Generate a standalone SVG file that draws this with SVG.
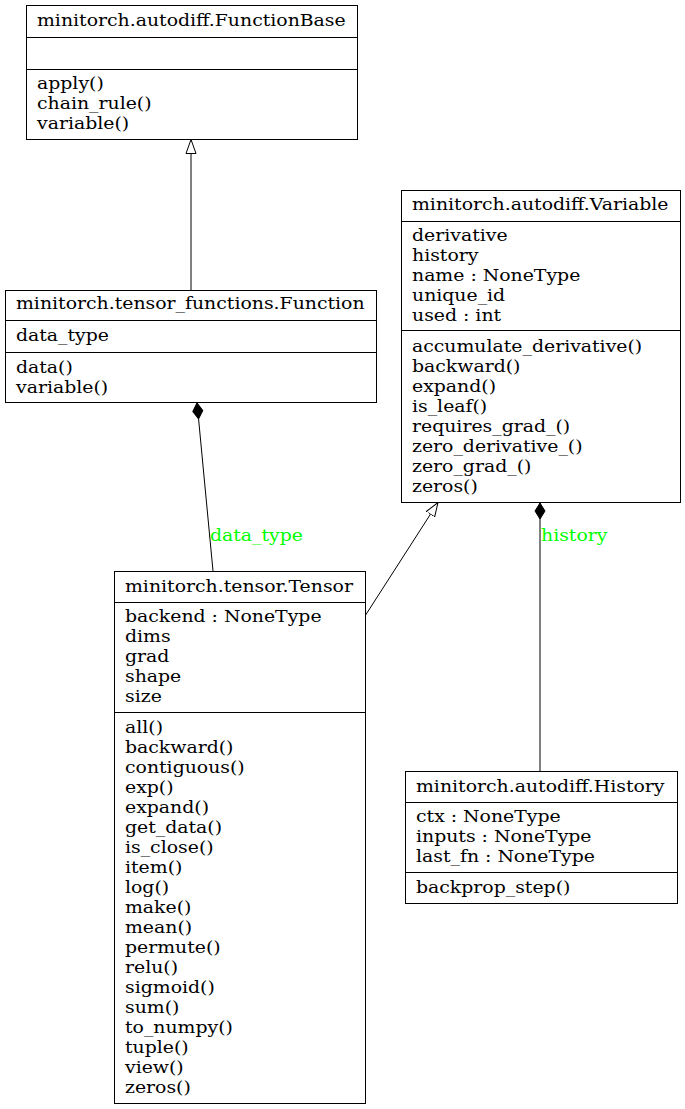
<svg xmlns="http://www.w3.org/2000/svg" width="685" height="1109" viewBox="0 0 685 1109">
  <style>
    .box { fill: #ffffff; stroke: #000000; stroke-width: 1; }
    .sep { stroke: #000000; stroke-width: 1; }
    text { font-family: "DejaVu Serif", "Liberation Serif", serif; font-size: 17px; fill: #000000; }
    .lbl { fill: #00ff00; }
    .edge { stroke: #000000; stroke-width: 1; fill: none; }
  </style>
  <defs>
    <marker id="inherit" viewBox="0 0 14 12" refX="14" refY="6" markerWidth="14" markerHeight="12" markerUnits="userSpaceOnUse" orient="auto">
      <path d="M0,1 L14,6 L0,11 Z" fill="#ffffff" stroke="#000000" stroke-width="1"/>
    </marker>
    <marker id="compose" viewBox="0 0 17 12" refX="0" refY="6" markerWidth="17" markerHeight="12" markerUnits="userSpaceOnUse" orient="auto">
      <path d="M0.5,6 L8.5,1 L16.5,6 L8.5,11 Z" fill="#000000" stroke="#000000" stroke-width="1"/>
    </marker>
  </defs>

  <rect width="685" height="1109" fill="#ffffff"/>

  <!-- connectors -->
  <g id="edges">
    <!-- Function inherits FunctionBase -->
    <line class="edge" x1="191" y1="290" x2="191" y2="139.5" marker-end="url(#inherit)"/>
    <!-- Tensor inherits Variable -->
    <line class="edge" x1="365" y1="616" x2="438" y2="502.5" marker-end="url(#inherit)"/>
    <!-- Function.data_type composed of Tensor -->
    <line class="edge" x1="197" y1="402.5" x2="213" y2="571" marker-start="url(#compose)"/>
    <g transform="translate(210,0) scale(1.11,1)"><text class="lbl" x="0" y="541">data_type</text></g>
    <!-- Variable.history composed of History -->
    <line class="edge" x1="540" y1="502.5" x2="540" y2="771" marker-start="url(#compose)"/>
    <g transform="translate(541,0) scale(1.11,1)"><text class="lbl" x="0" y="541">history</text></g>
  </g>

  <g id="FunctionBase">
    <rect class="box" x="26.5" y="5.5" width="331" height="134"/>
    <line class="sep" x1="26.5" y1="37.5" x2="357.5" y2="37.5"/>
    <line class="sep" x1="26.5" y1="69.5" x2="357.5" y2="69.5"/>
    <g transform="translate(37,0) scale(1.11,1)">
      <text x="0" y="26">minitorch.autodiff.FunctionBase</text>
      <text x="0" y="89">apply()</text>
      <text x="0" y="109">chain_rule()</text>
      <text x="0" y="129">variable()</text>
    </g>
  </g>

  <g id="Function">
    <rect class="box" x="5.5" y="290.5" width="371" height="112"/>
    <line class="sep" x1="5.5" y1="320.5" x2="376.5" y2="320.5"/>
    <line class="sep" x1="5.5" y1="352.5" x2="376.5" y2="352.5"/>
    <g transform="translate(16,0) scale(1.11,1)">
      <text x="0" y="309">minitorch.tensor_functions.Function</text>
      <text x="0" y="341">data_type</text>
      <text x="0" y="373">data()</text>
      <text x="0" y="393">variable()</text>
    </g>
  </g>

  <g id="Variable">
    <rect class="box" x="401.5" y="190.5" width="279" height="312"/>
    <line class="sep" x1="401.5" y1="221.5" x2="680.5" y2="221.5"/>
    <line class="sep" x1="401.5" y1="330.5" x2="680.5" y2="330.5"/>
    <g transform="translate(412,0) scale(1.11,1)">
      <text x="0" y="210">minitorch.autodiff.Variable</text>
      <text x="0" y="241">derivative</text>
      <text x="0" y="261">history</text>
      <text x="0" y="281">name : NoneType</text>
      <text x="0" y="301">unique_id</text>
      <text x="0" y="321">used : int</text>
      <text x="0" y="352">accumulate_derivative()</text>
      <text x="0" y="372">backward()</text>
      <text x="0" y="392">expand()</text>
      <text x="0" y="412">is_leaf()</text>
      <text x="0" y="432">requires_grad_()</text>
      <text x="0" y="452">zero_derivative_()</text>
      <text x="0" y="472">zero_grad_()</text>
      <text x="0" y="492">zeros()</text>
    </g>
  </g>

  <g id="Tensor">
    <rect class="box" x="114.5" y="571.5" width="251" height="532"/>
    <line class="sep" x1="114.5" y1="602.5" x2="365.5" y2="602.5"/>
    <line class="sep" x1="114.5" y1="712.5" x2="365.5" y2="712.5"/>
    <g transform="translate(125,0) scale(1.11,1)">
      <text x="0" y="592">minitorch.tensor.Tensor</text>
      <text x="0" y="622">backend : NoneType</text>
      <text x="0" y="642">dims</text>
      <text x="0" y="662">grad</text>
      <text x="0" y="682">shape</text>
      <text x="0" y="702">size</text>
      <text x="0" y="733">all()</text>
      <text x="0" y="753">backward()</text>
      <text x="0" y="773">contiguous()</text>
      <text x="0" y="793">exp()</text>
      <text x="0" y="813">expand()</text>
      <text x="0" y="833">get_data()</text>
      <text x="0" y="853">is_close()</text>
      <text x="0" y="873">item()</text>
      <text x="0" y="893">log()</text>
      <text x="0" y="913">make()</text>
      <text x="0" y="933">mean()</text>
      <text x="0" y="953">permute()</text>
      <text x="0" y="973">relu()</text>
      <text x="0" y="993">sigmoid()</text>
      <text x="0" y="1013">sum()</text>
      <text x="0" y="1033">to_numpy()</text>
      <text x="0" y="1053">tuple()</text>
      <text x="0" y="1073">view()</text>
      <text x="0" y="1093">zeros()</text>
    </g>
  </g>

  <g id="History">
    <rect class="box" x="405.5" y="771.5" width="272" height="132"/>
    <line class="sep" x1="405.5" y1="802.5" x2="677.5" y2="802.5"/>
    <line class="sep" x1="405.5" y1="872.5" x2="677.5" y2="872.5"/>
    <g transform="translate(416,0) scale(1.11,1)">
      <text x="0" y="792">minitorch.autodiff.History</text>
      <text x="0" y="822">ctx : NoneType</text>
      <text x="0" y="842">inputs : NoneType</text>
      <text x="0" y="862">last_fn : NoneType</text>
      <text x="0" y="893">backprop_step()</text>
    </g>
  </g>
</svg>
